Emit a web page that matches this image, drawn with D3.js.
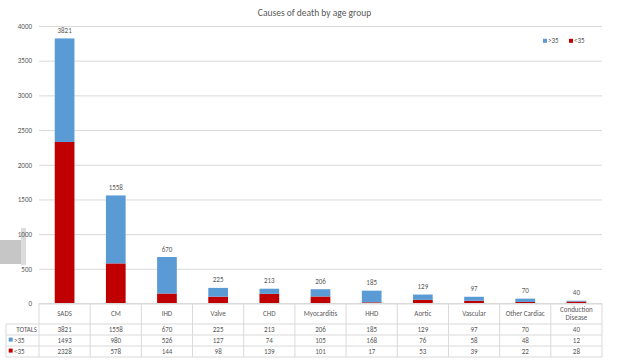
<!DOCTYPE html>
<html>
<head>
<meta charset="utf-8">
<script src="https://cdn.jsdelivr.net/npm/d3@7/dist/d3.min.js"></script>
<style>
  html, body { margin: 0; padding: 0; background: #fff; }
  svg { display: block; }
  text { font-family: Carlito, Lato, "Open Sans", sans-serif; fill: #595959; }
</style>
</head>
<body>
<svg id="chart" width="629" height="360"></svg>
<script>
// Causes of death, split by age group
const categories = ["SADS", "CM", "IHD", "Valve", "CHD", "Myocarditis", "HHD",
                    "Aortic", "Vascular", "Other Cardiac", "Conduction Disease"];
const over35  = [1493, 980, 526, 127, 74, 105, 168, 76, 58, 48, 12];
const under35 = [2328, 578, 144, 98, 139, 101, 17, 53, 39, 22, 28];
const totals  = [3821, 1558, 670, 225, 213, 206, 185, 129, 97, 70, 40];
const yTicks  = [0, 500, 1000, 1500, 2000, 2500, 3000, 3500, 4000];

const series = [
  { key: "<35", label: "<35", values: under35, color: "#C00000" },
  { key: ">35", label: ">35", values: over35,  color: "#5B9BD5" }
];

const svg = d3.select("#chart");
const plotLeft = 39, plotRight = 602, plotTop = 26, plotBottom = 303.5;

// decorative grey tab on the left edge of the slide
svg.append("defs").append("filter").attr("id", "soft")
  .append("feGaussianBlur").attr("stdDeviation", 0.6);
const deco = svg.append("g").attr("filter", "url(#soft)");
deco.append("rect").attr("x", 0).attr("y", 240).attr("width", 22).attr("height", 24).attr("fill", "#c6c6c6");
deco.append("rect").attr("x", 21).attr("y", 228).attr("width", 5).attr("height", 37).attr("fill", "#dcdcdc");

const x = d3.scaleBand().domain(categories).range([plotLeft, plotRight]).padding(0);
const y = d3.scaleLinear().domain([0, 4000]).range([plotBottom, plotTop]);
const barW = x.bandwidth() * 0.385;

// title
svg.append("text")
  .attr("x", 314.5).attr("y", 15.5)
  .attr("text-anchor", "middle")
  .style("font-size", "9.5px")
  .text("Causes of death by age group");

// gridlines
svg.append("g")
  .attr("transform", `translate(${plotLeft},0)`)
  .call(d3.axisLeft(y).tickValues(yTicks).tickSize(-(plotRight - plotLeft)).tickFormat(""))
  .call(g => g.select(".domain").remove())
  .call(g => g.selectAll("line").attr("stroke", "#D9D9D9").attr("stroke-width", 1));

// y axis labels
svg.append("g")
  .attr("transform", `translate(${plotLeft},0)`)
  .call(d3.axisLeft(y).tickValues(yTicks).tickSize(0).tickPadding(7).tickFormat(d3.format("d")))
  .call(g => g.select(".domain").remove())
  .call(g => g.selectAll("text").style("font-size", "7px").attr("fill", "#595959").attr("font-family", null));

// stacked bars
const rows = categories.map((c, i) => ({ cat: c, "<35": under35[i], ">35": over35[i] }));
const stacked = d3.stack().keys(series.map(s => s.key))(rows);

svg.append("g").selectAll("g")
  .data(stacked)
  .join("g")
  .attr("fill", (d, i) => series[i].color)
  .selectAll("rect")
  .data(d => d)
  .join("rect")
  .attr("x", d => x(d.data.cat) + (x.bandwidth() - barW) / 2)
  .attr("width", barW)
  .attr("y", d => y(d[1]))
  .attr("height", d => y(d[0]) - y(d[1]));

// total labels above bars
svg.append("g").selectAll("text")
  .data(categories)
  .join("text")
  .attr("x", d => x(d) + x.bandwidth() / 2)
  .attr("y", (d, i) => y(totals[i]) - 5.5)
  .attr("text-anchor", "middle")
  .style("font-size", "7px")
  .text((d, i) => totals[i]);

// legend
const legend = svg.append("g");
const legendPos = [{ s: series[1], x: 543 }, { s: series[0], x: 569 }];
legendPos.forEach(p => {
  legend.append("rect").attr("x", p.x).attr("y", 38.8).attr("width", 4).attr("height", 4).attr("fill", p.s.color);
  legend.append("text").attr("x", p.x + 5).attr("y", 43.2).style("font-size", "7px").text(p.s.label);
});

// data table beneath the plot
const tbl = svg.append("g");
const lineColor = "#D9D9D9";
const hdrBottom = 324, rowH = 11;
const tableRows = [
  { label: "TOTALS", values: totals, color: null },
  { label: ">35", values: over35, color: "#5B9BD5" },
  { label: "<35", values: under35, color: "#C00000" }
];
const tableBottom = hdrBottom + rowH * tableRows.length;

// horizontal rules
tbl.append("line").attr("x1", plotLeft).attr("x2", plotRight).attr("y1", plotBottom).attr("y2", plotBottom).attr("stroke", lineColor);
d3.range(tableRows.length + 1).forEach(k => {
  const yy = hdrBottom + k * rowH;
  tbl.append("line").attr("x1", 6).attr("x2", plotRight).attr("y1", yy).attr("y2", yy).attr("stroke", lineColor);
});
// vertical rules
tbl.append("line").attr("x1", 6).attr("x2", 6).attr("y1", hdrBottom).attr("y2", tableBottom).attr("stroke", lineColor);
categories.concat([null]).forEach(c => {
  const xx = c === null ? plotRight : x(c);
  tbl.append("line").attr("x1", xx).attr("x2", xx).attr("y1", plotBottom).attr("y2", tableBottom).attr("stroke", lineColor);
});

// category headers, wrapped when wider than a column
categories.forEach(c => {
  const cx = x(c) + x.bandwidth() / 2;
  const t = tbl.append("text").attr("x", cx).attr("y", 316).attr("text-anchor", "middle").style("font-size", "7px").text(c);
  if (t.node().getComputedTextLength() > x.bandwidth() - 4) {
    const words = c.split(" ");
    t.text(null);
    words.forEach((w, k) => {
      t.append("tspan").attr("x", cx).attr("y", 316 + (k - (words.length - 1) / 2) * 8).text(w);
    });
  }
});

// table body
tableRows.forEach((r, k) => {
  const yy = hdrBottom + k * rowH + rowH / 2 + 2.4;
  if (r.color) {
    tbl.append("rect").attr("x", 8.7).attr("y", yy - 5.3).attr("width", 4).attr("height", 4).attr("fill", r.color);
    tbl.append("text").attr("x", 14).attr("y", yy).style("font-size", "7px").text(r.label);
  } else {
    tbl.append("text").attr("x", 37).attr("y", yy).attr("text-anchor", "end").style("font-size", "7px").text(r.label);
  }
  categories.forEach((c, i) => {
    tbl.append("text")
      .attr("x", x(c) + x.bandwidth() / 2).attr("y", yy)
      .attr("text-anchor", "middle").style("font-size", "7px")
      .text(r.values[i]);
  });
});
</script>
</body>
</html>
